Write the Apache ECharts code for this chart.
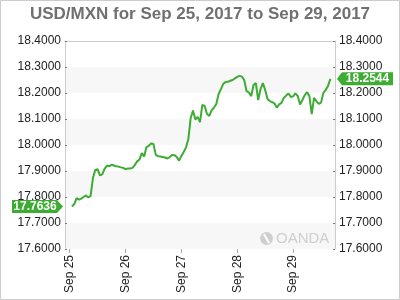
<!DOCTYPE html>
<html>
<head>
<meta charset="utf-8">
<script src="https://cdn.jsdelivr.net/npm/echarts@6/dist/echarts.min.js"></script>
<style>html,body{margin:0;padding:0;background:#fff}#c{width:400px;height:300px}</style>
</head>
<body>
<div id="c"></div>
<script>
const titleText = 'USD/MXN for Sep 25, 2017 to Sep 29, 2017';
const startHourUTC = [2017, 8, 24, 22];   // first category: Sep 24 22:00
const hourCount = 117;
const leadingGaps = 3;
const rates = [
  17.7636, 17.773, 17.796, 17.790, 17.794, 17.800, 17.806, 17.798, 17.804, 17.873,
  17.904, 17.907, 17.883, 17.887, 17.908, 17.920, 17.919, 17.924, 17.921, 17.918,
  17.917, 17.914, 17.912, 17.907, 17.910, 17.910, 17.912, 17.923, 17.937, 17.944,
  17.969, 17.956, 17.992, 17.997, 18.006, 18.004, 17.962, 17.957, 17.956, 17.954,
  17.952, 17.948, 17.954, 17.962, 17.961, 17.954, 17.940, 17.958, 17.973, 17.991,
  18.023, 18.104, 18.133, 18.098, 18.108, 18.088, 18.154, 18.150, 18.119, 18.112,
  18.133, 18.144, 18.158, 18.196, 18.215, 18.235, 18.242,
  18.243, 18.247, 18.250, 18.256, 18.262, 18.266, 18.263, 18.250, 18.207, 18.202,
  18.188, 18.231, 18.238, 18.173, 18.215, 18.238, 18.212, 18.177, 18.169, 18.165,
  18.160, 18.144, 18.156, 18.162, 18.181, 18.190, 18.198, 18.185, 18.187, 18.199,
  18.188, 18.156, 18.173, 18.192, 18.203, 18.188, 18.119, 18.181, 18.169, 18.158,
  18.163, 18.200, 18.212, 18.227, 18.2544
];
const firstRate = 17.7636;
const lastRate = 18.2544;
const yMin = 17.6, yMax = 18.4, yStep = 0.1;

const pad = n => (n < 10 ? '0' : '') + n;
const categories = [];
for (let h = 0; h < hourCount; h++) {
  const d = new Date(Date.UTC(startHourUTC[0], startHourUTC[1], startHourUTC[2], startHourUTC[3] + h));
  categories.push(d.getUTCFullYear() + '-' + pad(d.getUTCMonth() + 1) + '-' + pad(d.getUTCDate()) + ' ' + pad(d.getUTCHours()) + ':00');
}
const seriesData = categories.map((c, i) => {
  const k = i - leadingGaps;
  return (k >= 0 && k < rates.length) ? rates[k] : null;
});

const green = '#3cac32';
const labelFont = 'Liberation Sans, Arial, sans-serif';
const isMidnight = (idx, val) => val.slice(11) === '00:00';

const chart = echarts.init(document.getElementById('c'), null, {renderer: 'canvas'});
const yAxisBase = {
  type: 'value', min: yMin, max: yMax, interval: yStep,
  axisLine: {show: true, lineStyle: {color: '#cccccc', width: 1}},
  axisTick: {show: true, inside: true, length: 2, lineStyle: {color: '#777'}},
  splitLine: {show: false},
  axisLabel: {color: '#222', fontSize: 12, fontFamily: labelFont, margin: 4, formatter: v => v.toFixed(4)}
};
chart.setOption({
  animation: false,
  title: {
    text: titleText, left: 'center', top: 1,
    textStyle: {color: '#707070', fontSize: 17, fontWeight: 'bold', fontFamily: labelFont}
  },
  grid: {left: 65, right: 65, top: 41, bottom: 51, containLabel: false},
  xAxis: [{
    type: 'category', data: categories, boundaryGap: false,
    axisLine: {show: false},
    axisTick: {show: true, interval: isMidnight, length: 4, lineStyle: {color: '#aaa'}},
    axisLabel: {interval: isMidnight, rotate: 90, color: '#222', fontSize: 12, fontFamily: labelFont, margin: 6,
      formatter: v => 'Sep ' + v.slice(8, 10)},
    splitLine: {show: false}
  }, {
    type: 'category', data: categories, boundaryGap: false, position: 'top',
    axisLine: {show: true, lineStyle: {color: '#cccccc'}},
    axisTick: {show: false}, axisLabel: {show: false}
  }],
  yAxis: [
    Object.assign({}, yAxisBase, {position: 'left',
      splitArea: {show: true, areaStyle: {color: ['#f7f7f7', '#ffffff']}}}),
    Object.assign({}, yAxisBase, {position: 'right', splitArea: {show: false}})
  ],
  series: [{
    type: 'line', data: seriesData, xAxisIndex: 0, yAxisIndex: 0,
    showSymbol: false, symbol: 'none', connectNulls: false,
    lineStyle: {color: green, width: 2}, z: 5
  }]
});

function tag(value, side) {
  const py = chart.convertToPixel({yAxisIndex: 0}, value);
  const h = 6.5;
  let pts, tx;
  if (side === 'left') {
    pts = [[12, py - h], [57, py - h], [63, py], [57, py + h], [12, py + h]];
    tx = 35;
  } else {
    pts = [[337, py], [342, py - h], [393, py - h], [393, py + h], [342, py + h]];
    tx = 367.5;
  }
  return [
    {type: 'polygon', shape: {points: pts}, style: {fill: green}, z: 10},
    {type: 'text', x: tx, y: py, style: {text: value.toFixed(4), fill: '#fff', font: 'bold 12px ' + labelFont,
      textAlign: 'center', textVerticalAlign: 'middle'}, z: 11}
  ];
}
chart.setOption({
  graphic: [
    {type: 'rect', shape: {x: 0.5, y: 0.5, width: 399, height: 299}, style: {fill: 'none', stroke: '#cccccc', lineWidth: 1}, z: 20},
    {type: 'circle', shape: {cx: 266.5, cy: 238.5, r: 6.5}, style: {fill: '#cfcfcf'}, z: 3},
    {type: 'line', shape: {x1: 264, y1: 234, x2: 269, y2: 243}, style: {stroke: '#fff', lineWidth: 2}, z: 4},
    {type: 'text', x: 276, y: 238.5, style: {text: 'OANDA', fill: '#cfcfcf', font: '15px ' + labelFont, textVerticalAlign: 'middle'}, z: 3}
  ].concat(tag(firstRate, 'left'), tag(lastRate, 'right'))
});
</script>
</body>
</html>
